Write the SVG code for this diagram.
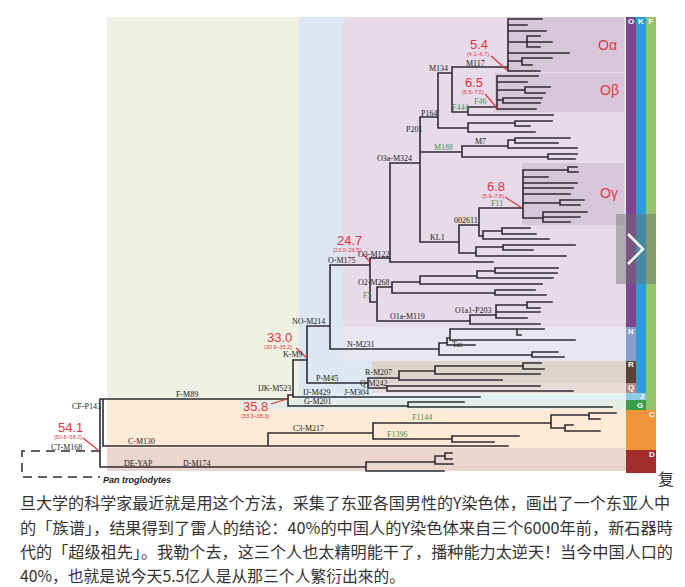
<svg xmlns="http://www.w3.org/2000/svg" width="685" height="587" viewBox="0 0 685 587">
<style>
.br{fill:none;stroke:#2f2b35;stroke-width:1.6;stroke-linecap:square}
.dash{fill:none;stroke:#2f2b35;stroke-width:1.5;stroke-dasharray:9,6}
.lb{font-family:"Liberation Serif",serif;font-size:8px;fill:#222}
.gl{font-family:"Liberation Serif",serif;font-size:8px;fill:#4c8c4a}
.tn{font-family:"Liberation Sans",sans-serif;font-size:13px;fill:#e3343c}
.ts{font-family:"Liberation Sans",sans-serif;font-size:5.5px;fill:#e3343c}
.rl{stroke:#e3343c;stroke-width:1.2}
.ob{font-family:"Liberation Sans",sans-serif;font-size:14px;fill:#e23a47}
.sl{font-family:"Liberation Sans",sans-serif;font-size:8px;font-weight:bold;fill:#fff;text-anchor:middle}
.cn{font-family:"Noto Sans CJK SC",sans-serif;font-size:16px;fill:#333}
</style>
<rect width="685" height="587" fill="#fff"/>
<g id="backgrounds">
<rect x="107" y="17" width="519" height="383" fill="#edf1e2"/>
<rect x="299" y="17" width="327" height="383" fill="#dde7f4"/>
<rect x="343" y="17" width="283" height="310" fill="#e7dbea"/>
<rect x="507" y="17" width="117" height="55" fill="#d7c6da"/>
<rect x="495" y="73" width="129" height="39" fill="#d7c6da"/>
<rect x="522" y="163" width="102" height="62" fill="#d7c6da"/>
<rect x="343" y="327" width="283" height="34" fill="#e6e7ef"/>
<rect x="372" y="361" width="254" height="22" fill="#ddd4cc"/>
<rect x="372" y="383" width="254" height="10" fill="#e9dcd8"/>
<rect x="299" y="393" width="327" height="7" fill="#e3f1f6"/>
<rect x="107" y="400" width="519" height="48" fill="#fdebd7"/>
<rect x="240" y="400" width="386" height="9" fill="#e3ede5"/>
<rect x="107" y="448" width="519" height="23" fill="#ebd6cd"/>
</g>
<g id="strips">
<rect x="626" y="17" width="10" height="310" fill="#7d4690"/>
<rect x="626" y="327" width="10" height="34" fill="#8b9dc9"/>
<rect x="626" y="361" width="10" height="22" fill="#5a4636"/>
<rect x="626" y="383" width="10" height="10" fill="#b78a80"/>
<rect x="636" y="17" width="10" height="376" fill="#2b9ed6"/>
<rect x="646" y="17" width="10" height="393" fill="#94c36b"/>
<rect x="626" y="393" width="20" height="7" fill="#8fcbe8"/>
<rect x="626" y="400" width="20" height="10" fill="#3b9e4c"/>
<rect x="626" y="410" width="30" height="40" fill="#ef9438"/>
<rect x="626" y="450" width="30" height="23" fill="#a32d2c"/>
<text class="sl" x="631" y="24">O</text>
<text class="sl" x="641" y="24">K</text>
<text class="sl" x="651" y="24">F</text>
<text class="sl" x="631" y="334">N</text>
<text class="sl" x="631" y="367">R</text>
<text class="sl" x="631" y="390">Q</text>
<text class="sl" x="642" y="399" font-size="6">J</text>
<text class="sl" x="640" y="408">G</text>
<text class="sl" x="652" y="417">C</text>
<text class="sl" x="652" y="457">D</text>
</g>
<g id="connectors">
<path class="dash" d="M100,451H22V477H100"/>
<path class="br" d="M100,399V467M100,399H103M100,467H366
M103,399V446M103,399H288M103,446H268
M288,395V406M288,395H293M288,406H408
M293,360V397M293,360H307M293,397H480
M408,402V407M408,402H464M408,407H612
M307,326V383M307,326H330M307,383H368
M330,265V349M330,265H370M330,349H439
M439,343V355M439,343H447M439,355H532
M447,338V345M447,338H450M447,345H475
M450,329V340M450,329H517M450,340H575
M517,329V335M517,329H544M517,335H521
M532,352V357M532,352H558M532,357H564
M368,378V388M368,378H399M368,388H387
M399,371V380M399,371H435M399,380H502
M435,366V374M435,366H523M435,374H540
M523,363V369M523,363H541M523,369H544
M387,386V391M387,386H540M387,391H573
M370,258V302M370,258H390M370,302H377
M390,163V262M390,163H420M390,262H493
M420,117V242M420,117H438M420,152H462M420,242H459
M438,73V128M438,73H452M438,128H468
M452,67V112M452,67H508M452,112H468
M508,19V71M508,19H542M508,25H527M508,31H546M508,42H527M508,53H569M508,61H522M508,71H540
M527,36V47M527,36H540M527,42H552M527,47H540
M522,58V65M522,58H552M522,65H532
M468,107V115M468,107H497M468,115H553
M497,76V109M497,76H538M497,82H527M497,90H525M497,100H503M497,109H536
M525,87V93M525,87H550M525,93H545
M503,98V103M503,98H542M503,103H540
M468,123V132M468,123H515M468,132H535
M515,121V126M515,121H552M515,126H530
M462,146V157M462,146H508M462,157H548
M508,140V148M508,140H515M508,148H577
M515,138V143M515,138H570M515,143H558
M548,154V159M548,154H577M548,159H575
M459,225V253M459,225H479M459,253H476
M479,208V236M479,208H523M479,236H483
M523,170V218M523,170H568M523,177H548M523,183H577M523,188H573M523,194H570M523,203H560M523,218H543
M568,167V172M568,167H577M568,172H578
M560,200V205M560,200H584M560,205H580
M543,212V222M543,212H587M543,217H580M543,222H570
M483,231V239M483,231H502M483,239H549
M502,228V234M502,228H530M502,234H536
M476,247V256M476,247H503M476,256H566
M503,245V250M503,245H575M503,250H533
M377,287V321M377,287H392M377,321H470
M392,282V293M392,282H420M392,293H495
M420,276V284M420,276H477M420,284H542
M477,271V278M477,271H495M477,278H553
M495,268V273M495,268H558M495,273H557
M495,290V295M495,290H535M495,295H546
M470,315V324M470,315H496M470,324H540
M496,305V318M496,305H527M496,312H540M496,318H527
M527,302V308M527,302H552M527,308H540
M268,433V446M268,433H373M268,446H508
M373,423V439M373,423H551M373,439H452
M551,415V428M551,415H589M551,428H565
M589,413V419M589,413H616M589,419H600
M565,425V431M565,425H573M565,431H600
M452,436V442M452,436H519M452,442H494
M366,462V471M366,462H435M366,471H444
M435,456V464M435,456H445M435,464H453
M445,453V459M445,453H452M445,459H452"/>
<line class="rl" x1="491" y1="56" x2="507" y2="70"/>
<line class="rl" x1="485" y1="94" x2="497" y2="108"/>
<line class="rl" x1="505" y1="197" x2="522" y2="208"/>
<line class="rl" x1="363" y1="254" x2="370" y2="262"/>
<line class="rl" x1="296" y1="348" x2="307" y2="358"/>
<line class="rl" x1="271" y1="404" x2="287" y2="399"/>
<line class="rl" x1="83" y1="438" x2="98" y2="450"/>
</g>
<g id="clade-names">
<text class="ob" x="598" y="50">Oα</text>
<text class="ob" x="600" y="95">Oβ</text>
<text class="ob" x="600" y="198">Oγ</text>
</g>
<g id="ages">
<g id="age-Oa"><text class="tn" x="470" y="49">5.4</text><text class="ts" x="467" y="56">(4.1–6.7)</text></g>
<g id="age-Ob"><text class="tn" x="465" y="87">6.5</text><text class="ts" x="462" y="94">(5.5–7.5)</text></g>
<g id="age-Og"><text class="tn" x="487" y="191">6.8</text><text class="ts" x="482" y="198">(5.9–7.8)</text></g>
<g id="age-O"><text class="tn" x="337" y="245">24.7</text><text class="ts" x="333" y="252">(23.0–26.5)</text></g>
<g id="age-K"><text class="tn" x="267" y="342">33.0</text><text class="ts" x="264" y="349">(30.9–35.2)</text></g>
<g id="age-F"><text class="tn" x="243" y="411">35.8</text><text class="ts" x="241" y="418">(33.3–38.3)</text></g>
<g id="age-CT"><text class="tn" x="58" y="432">54.1</text><text class="ts" x="54" y="439">(50.6–58.2)</text></g>
</g>
<g id="node-labels">
<g id="n-M134"><text class="lb" x="429" y="71">M134</text></g>
<g id="n-M117"><text class="lb" x="466" y="66">M117</text></g>
<g id="n-P164"><text class="lb" x="421" y="116">P164</text></g>
<g id="n-P201"><text class="lb" x="406" y="132">P201</text></g>
<g id="n-M188"><text class="gl" x="434" y="150">M188</text></g>
<g id="n-M7"><text class="lb" x="475" y="144">M7</text></g>
<g id="n-F444"><text class="gl" x="452" y="110">F444</text></g>
<g id="n-F46"><text class="gl" x="474" y="104">F46</text></g>
<g id="n-O3a"><text class="lb" x="377" y="161">O3a-M324</text></g>
<g id="n-KL1"><text class="lb" x="430" y="240">KL1</text></g>
<g id="n-002611"><text class="lb" x="454" y="223">002611</text></g>
<g id="n-F11"><text class="gl" x="491" y="206">F11</text></g>
<g id="n-O3"><text class="lb" x="358" y="257">O3-M122</text></g>
<g id="n-O"><text class="lb" x="328" y="263">O-M175</text></g>
<g id="n-O2"><text class="lb" x="358" y="285">O2-M268</text></g>
<g id="n-F5"><text class="gl" x="363" y="298">F5</text></g>
<g id="n-O1a"><text class="lb" x="390" y="319">O1a-M119</text></g>
<g id="n-O1a1"><text class="lb" x="455" y="313">O1a1-P203</text></g>
<g id="n-NO"><text class="lb" x="292" y="324">NO-M214</text></g>
<g id="n-N"><text class="lb" x="347" y="347">N-M231</text></g>
<g id="n-Tat"><text class="lb" x="452" y="347">Tat</text></g>
<g id="n-K"><text class="lb" x="283" y="357">K-M9</text></g>
<g id="n-P"><text class="lb" x="316" y="381">P-M45</text></g>
<g id="n-R"><text class="lb" x="365" y="375">R-M207</text></g>
<g id="n-Q"><text class="lb" x="360" y="386">Q-M242</text></g>
<g id="n-IJK"><text class="lb" x="258" y="391">IJK-M523</text></g>
<g id="n-IJ"><text class="lb" x="303" y="395">IJ-M429</text></g>
<g id="n-J"><text class="lb" x="344" y="395">J-M304</text></g>
<g id="n-G"><text class="lb" x="304" y="404">G-M201</text></g>
<g id="n-F1144"><text class="gl" x="412" y="420">F1144</text></g>
<g id="n-C3"><text class="lb" x="293" y="431">C3-M217</text></g>
<g id="n-F1396"><text class="gl" x="387" y="437">F1396</text></g>
<g id="n-C"><text class="lb" x="128" y="444">C-M130</text></g>
<g id="n-CF"><text class="lb" x="72" y="409">CF-P143</text></g>
<g id="n-F"><text class="lb" x="176" y="397">F-M89</text></g>
<g id="n-CT"><text class="lb" x="51" y="450">CT-M168</text></g>
<g id="n-DE"><text class="lb" x="124" y="466">DE-YAP</text></g>
<g id="n-D"><text class="lb" x="183" y="466">D-M174</text></g>
<g id="n-Pan"><text x="103" y="483" font-family="Liberation Sans,sans-serif" font-size="9" font-weight="bold" font-style="italic" fill="#222">Pan troglodytes</text></g>
</g>
<g id="nav">
<rect x="616" y="214" width="40" height="70" fill="#6e6e6e" fill-opacity="0.45"/>
<path d="M628,234L643,249L628,264" fill="none" stroke="#fff" stroke-width="2.5"/>
</g>
<text class="cn" x="658" y="485" font-size="15">复</text>
<g id="caption">
<text class="cn" x="20" y="509" textLength="650" lengthAdjust="spacingAndGlyphs">旦大学的科学家最近就是用这个方法，采集了东亚各国男性的Y染色体，画出了一个东亚人中</text>
<text class="cn" x="20" y="534" textLength="653" lengthAdjust="spacingAndGlyphs">的「族谱」，结果得到了雷人的结论：40%的中国人的Y染色体来自三个6000年前，新石器時</text>
<text class="cn" x="20" y="558" textLength="653" lengthAdjust="spacingAndGlyphs">代的「超级祖先」。我勒个去，这三个人也太精明能干了，播种能力太逆天！当今中国人口的</text>
<text class="cn" x="20" y="582" textLength="385" lengthAdjust="spacingAndGlyphs">40%，也就是说今天5.5亿人是从那三个人繁衍出來的。</text>
</g>
</svg>
